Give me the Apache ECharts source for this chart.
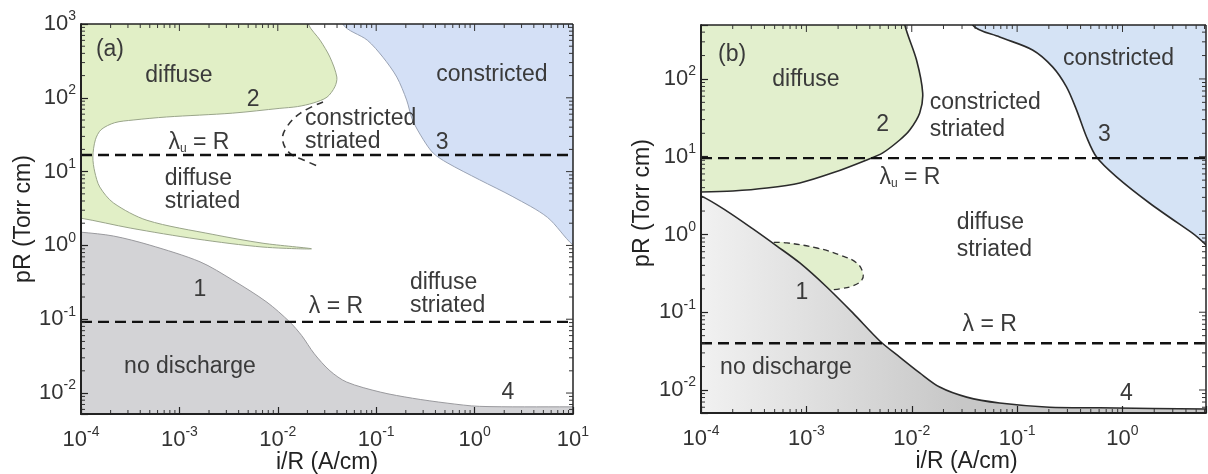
<!DOCTYPE html>
<html><head><meta charset="utf-8">
<script src="https://cdn.jsdelivr.net/npm/echarts@6/dist/echarts.min.js"></script>
<style>html,body{margin:0;padding:0;background:#fff}#c{width:1208px;height:474px}</style>
</head><body><div id="c"></div>
<script>
// ---------------- data ----------------
// axis ranges
const A_X = [1e-4, 10];
const A_Y = [5.2e-3, 1000];
const B_X = [1e-4, 6.2];
const B_Y = [5.06e-3, 494];

// panel (a) region boundaries [i/R (A/cm), pR (Torr cm)]
const A_DIFFUSE = [[5e-5,3000],[1.7e-2,3000],[2.04e-2,1000],[2.69e-2,603],[3.39e-2,355],[3.98e-2,191],[3.80e-2,141],[3.16e-2,102],[2.29e-2,85],[1.58e-2,76],[1.05e-2,72],[3.47e-3,62],[7.41e-4,55],[3.39e-4,50],[2.2e-4,46],[1.6e-4,37],[1.4e-4,27],[1.32e-4,15.8],[1.38e-4,9.9],[1.55e-4,6.2],[2.14e-4,3.76],[4.68e-4,2.19],[2.19e-3,1.41],[7.08e-3,1.07],[2.2e-2,0.9],[7.08e-3,0.95],[1.51e-3,1.22],[3.16e-4,1.72],[1e-4,2.34],[5e-5,2.6]];
const A_CONSTRICTED = [[4.2e-2,3000],[4.57e-2,1000],[8.13e-2,603],[0.117,355],[0.162,191],[0.204,93],[0.234,50],[0.302,27],[0.38,17.8],[0.525,13.2],[1.12,7.76],[2.45,4.57],[5.5,2.4],[10,1.01],[20,0.55],[20,3000]];
const A_NO_DISCHARGE = [[5e-5,1.6],[1e-4,1.51],[2.14e-4,1.34],[5.0e-4,1.01],[1.62e-3,0.60],[3.47e-3,0.34],[7.76e-3,0.17],[1.32e-2,0.092],[1.75e-2,0.060],[2.35e-2,0.034],[3.39e-2,0.020],[5.0e-2,0.0141],[0.11,0.0103],[0.234,0.0085],[0.525,0.0073],[1.12,0.0066],[9.3,0.0065],[20,0.0065],[20,1e-3],[5e-5,1e-3]];
const A_CONSTRICTED_STRIATED = [[2.88e-2,88],[1.70e-2,62],[1.23e-2,40],[1.12e-2,27],[1.32e-2,17.8],[1.82e-2,14.4],[2.69e-2,11.5]];
const A_LAMBDA_U = 16.8;
const A_LAMBDA = 0.092;

// panel (b)
const B_DIFFUSE = [[5e-5,1500],[7.6e-3,1500],[8.6e-3,494],[1.11e-2,175],[1.27e-2,66],[1.19e-2,36.5],[9.57e-3,22],[7.69e-3,16.4],[5.31e-3,11.2],[3.74e-3,9.1],[1.78e-3,6.2],[8.67e-4,4.6],[4.22e-4,3.96],[2.01e-4,3.63],[1e-4,3.52],[5e-5,3.5]];
const B_LOBE = [[4.9e-4,0.79],[6.53e-4,0.78],[1.26e-3,0.67],[2.08e-3,0.545],[3.01e-3,0.43],[3.44e-3,0.32],[3.36e-3,0.26],[2.76e-3,0.218],[2.08e-3,0.20],[1.67e-3,0.193],[1.2e-3,0.2],[6e-4,0.4]];
const B_LOBE_EDGE = [[4.9e-4,0.79],[6.53e-4,0.78],[1.26e-3,0.67],[2.08e-3,0.545],[3.01e-3,0.43],[3.44e-3,0.32],[3.36e-3,0.26],[2.76e-3,0.218],[2.08e-3,0.20],[1.67e-3,0.193]];
const B_CONSTRICTED = [[3.3e-2,1500],[3.79e-2,494],[6.82e-2,347],[0.140,236],[0.217,143],[0.294,79],[0.366,40],[0.456,17.9],[0.567,9.9],[0.877,5.5],[1.80,2.54],[4.61,1.04],[12,0.42],[12,1500]];
const B_NO_DISCHARGE = [[5e-5,4.3],[1e-4,3.13],[1.76e-4,2.0],[3.11e-4,1.18],[5.25e-4,0.71],[8.67e-4,0.43],[1.56e-3,0.211],[2.76e-3,0.098],[4.98e-3,0.0427],[7.69e-3,0.0265],[1.19e-2,0.0166],[1.84e-2,0.0109],[3.32e-2,0.0081],[6.82e-2,0.0068],[0.203,0.0060],[0.605,0.0059],[6.2,0.0057],[15,0.0057],[15,1e-3],[5e-5,1e-3]];
const B_LAMBDA_U = 9.6;
const B_LAMBDA = 0.040;

// annotations [x, y, text, align]
const A_LABELS = [
  [1.97e-4, 445, '(a)', 'center'],
  [9.9e-4, 197, 'diffuse', 'center'],
  [5.6e-3, 93, '2', 'center'],
  [1.58e-3, 25, '{l|λ}{u|u}{l| = R}', 'center'],
  [7.1e-4, 5.6, 'diffuse\nstriated', 'left'],
  [1.89e-2, 36, 'constricted\nstriated', 'left'],
  [0.467, 25, '3', 'center'],
  [1.50, 204, 'constricted', 'center'],
  [1.62e-3, 0.249, '1', 'center'],
  [1.28e-3, 0.0225, 'no discharge', 'center'],
  [3.9e-2, 0.146, 'λ = R', 'center'],
  [0.22, 0.216, 'diffuse\nstriated', 'left'],
  [2.18, 0.0101, '4', 'center']
];
const B_LABELS = [
  [1.97e-4, 204, '(b)', 'center'],
  [9.9e-4, 97, 'diffuse', 'center'],
  [5.3e-3, 25.6, '2', 'center'],
  [1.48e-2, 33.4, 'constricted\nstriated', 'left'],
  [0.916, 181, 'constricted', 'center'],
  [0.675, 19, '3', 'center'],
  [9.6e-3, 5.3, '{l|λ}{u|u}{l| = R}', 'center'],
  [2.67e-2, 0.94, 'diffuse\nstriated', 'left'],
  [9.06e-4, 0.177, '1', 'center'],
  [6.4e-4, 0.0192, 'no discharge', 'center'],
  [5.5e-2, 0.0686, 'λ = R', 'center'],
  [1.09, 0.0091, '4', 'center']
];
const X_NAME = 'i/R (A/cm)';
const Y_NAME = 'pR (Torr cm)';

// ---------------- chart ----------------
const FONT = '"Liberation Sans", Arial, Helvetica, sans-serif';
const TXT = '#3a3a3a';
const AX = '#222';
const ANN_SIZE = 23;

function powLabel(v) {
  const l = Math.log10(v), e = Math.round(l);
  if (Math.abs(l - e) > 1e-6) return '';
  return '{b|10}{s|' + e + '}';
}
const TICK_RICH = {
  b: {fontSize: 22, fontFamily: FONT, color: '#333'},
  s: {fontSize: 14, fontFamily: FONT, color: '#333', padding: [0, 0, 15, 0]}
};
const ANN_RICH = {
  l: {fontSize: ANN_SIZE, fontFamily: FONT, fill: TXT},
  u: {fontSize: 12, fontFamily: FONT, fill: TXT, padding: [12, 0, 0, 0]}
};

function logTicks(r) {
  const out = [];
  const lo = Math.floor(Math.log10(r[0])), hi = Math.ceil(Math.log10(r[1]));
  for (let e = lo; e <= hi; e++) {
    for (let k = 1; k <= 9; k++) {
      const v = k * Math.pow(10, e);
      if (v >= r[0] * 1.0001 && v <= r[1] * 0.9999) out.push({v, major: k === 1});
    }
  }
  return out;
}

function xAxis(gi, r, namePad) {
  return {
    type: 'log', logBase: 10, gridIndex: gi, min: r[0], max: r[1], z: 20,
    name: X_NAME, nameLocation: 'middle', nameGap: 37, nameMoveOverlap: false,
    nameTextStyle: {fontSize: 23, fontFamily: FONT, color: '#222', padding: namePad},
    axisLine: {show: true, onZero: false, lineStyle: {color: AX, width: 2}},
    axisTick: {show: true, inside: true, length: 7, lineStyle: {color: AX, width: 1.2}},
    axisLabel: {margin: 11, interval: 0, formatter: powLabel, rich: TICK_RICH, hideOverlap: false},
    splitLine: {show: false}, minorTick: {show: false}, minorSplitLine: {show: false}
  };
}
function yAxis(gi, r, nameGap, namePad) {
  return {
    type: 'log', logBase: 10, gridIndex: gi, min: r[0], max: r[1], z: 20,
    name: Y_NAME, nameLocation: 'middle', nameGap: nameGap, nameRotate: 90,
    nameTextStyle: {fontSize: 23, fontFamily: FONT, color: '#222', padding: namePad},
    axisLine: {show: true, onZero: false, lineStyle: {color: AX, width: 2}},
    axisTick: {show: true, inside: true, length: 7, lineStyle: {color: AX, width: 1.2}},
    axisLabel: {margin: 5, interval: 0, formatter: powLabel, rich: TICK_RICH, hideOverlap: false},
    splitLine: {show: false}, minorTick: {show: false}, minorSplitLine: {show: false}
  };
}

function region(gi, pts, style, z, smooth) {
  return {
    type: 'custom', xAxisIndex: gi, yAxisIndex: gi, clip: true, z: z, silent: true,
    data: [[1e-3, 1]],
    renderItem(params, api) {
      const cs = params.coordSys;
      const st = Object.assign({}, style);
      if (style.gradient) {
        st.fill = new echarts.graphic.LinearGradient(cs.x, 0, cs.x + 260, 0, style.gradient, true);
        delete st.gradient;
      }
      return {type: 'polygon', shape: {points: pts.map(p => api.coord(p)), smooth: smooth}, style: st};
    }
  };
}
function curve(gi, pts, style, z, smooth) {
  return {
    type: 'custom', xAxisIndex: gi, yAxisIndex: gi, clip: true, z: z, silent: true,
    data: [[1e-3, 1]],
    renderItem(params, api) {
      return {type: 'polyline', shape: {points: pts.map(p => api.coord(p)), smooth: smooth}, style: Object.assign({fill: null}, style)};
    }
  };
}
function hline(gi, xr, y) {
  return {
    type: 'line', xAxisIndex: gi, yAxisIndex: gi, z: 6, silent: true, symbol: 'none',
    data: [[xr[0], y], [xr[1], y]],
    lineStyle: {color: '#111', width: 2.4, type: [11, 6]}
  };
}
function labels(gi, list, lh) {
  return {
    type: 'custom', xAxisIndex: gi, yAxisIndex: gi, z: 12, silent: true,
    data: [[1e-3, 1]],
    renderItem(params, api) {
      return {type: 'group', children: list.map(l => {
        const p = api.coord([l[0], l[1]]);
        return {type: 'text', x: p[0], y: p[1], style: {
          text: l[2], align: l[3], verticalAlign: 'middle', fontSize: ANN_SIZE,
          fontFamily: FONT, fill: TXT, lineHeight: lh, rich: ANN_RICH}};
      })};
    }
  };
}
function frame(gi, xr, yr) {
  return {
    type: 'custom', xAxisIndex: gi, yAxisIndex: gi, z: 15, silent: true,
    data: [[1e-3, 1]],
    renderItem(params, api) {
      const cs = params.coordSys, L = cs.x, T = cs.y, R = cs.x + cs.width, B = cs.y + cs.height;
      const st = {stroke: '#333', lineWidth: 1};
      const ch = [
        {type: 'line', shape: {x1: L, y1: T, x2: R, y2: T}, style: {stroke: AX, lineWidth: 1.5}},
        {type: 'line', shape: {x1: R, y1: T, x2: R, y2: B}, style: {stroke: AX, lineWidth: 1.5}}
      ];
      logTicks(xr).forEach(t => {
        const px = api.coord([t.v, yr[0]])[0];
        const len = t.major ? 7 : 4;
        if (!t.major) ch.push({type: 'line', shape: {x1: px, y1: B, x2: px, y2: B - len}, style: st});
        ch.push({type: 'line', shape: {x1: px, y1: T, x2: px, y2: T + len}, style: st});
      });
      logTicks(yr).forEach(t => {
        const py = api.coord([xr[0], t.v])[1];
        const len = t.major ? 7 : 4;
        if (!t.major) ch.push({type: 'line', shape: {x1: L, y1: py, x2: L + len, y2: py}, style: st});
        ch.push({type: 'line', shape: {x1: R, y1: py, x2: R - len, y2: py}, style: st});
      });
      return {type: 'group', children: ch};
    }
  };
}

const GREEN = '#e1efc6', BLUE = '#d4e0f6', GRAY = '#d3d3d6';
const chart = echarts.init(document.getElementById('c'), null, {renderer: 'canvas'});
chart.setOption({
  animation: false,
  backgroundColor: '#fff',
  grid: [
    {left: 81, top: 24, width: 492, height: 390, containLabel: false, outerBoundsMode: 'none'},
    {left: 701, top: 25, width: 505, height: 388, containLabel: false, outerBoundsMode: 'none'}
  ],
  xAxis: [xAxis(0, A_X, [0, 0, 0, 0]), xAxis(1, B_X, [0, 0, 0, 26])],
  yAxis: [yAxis(0, A_Y, 43, [0, 0, 0, 0]), yAxis(1, B_Y, 47, [0, 0, 0, 32])],
  series: [
    region(0, A_DIFFUSE, {fill: GREEN, stroke: '#9aa58a', lineWidth: 1}, 2, 0.3),
    region(0, A_CONSTRICTED, {fill: BLUE, stroke: '#9aa3b5', lineWidth: 1}, 2, 0.3),
    region(0, A_NO_DISCHARGE, {fill: GRAY, stroke: '#9a9a9e', lineWidth: 1}, 2, 0.3),
    curve(0, A_CONSTRICTED_STRIATED, {stroke: '#333', lineWidth: 1.6, lineDash: [7, 5]}, 4, 0.4),
    hline(0, A_X, A_LAMBDA_U),
    hline(0, A_X, A_LAMBDA),
    labels(0, A_LABELS, 23),
    frame(0, A_X, A_Y),

    region(1, B_DIFFUSE, {fill: '#e2efcd', stroke: '#2b2b2b', lineWidth: 1.6}, 2, 0.3),
    region(1, B_CONSTRICTED, {fill: '#d5e3f5', stroke: '#2b2b2b', lineWidth: 1.6}, 2, 0.3),
    region(1, B_LOBE, {fill: '#e2efcd'}, 2, 0.3),
    region(1, B_NO_DISCHARGE, {gradient: [{offset: 0, color: '#f1f1f1'}, {offset: 1, color: '#c7c7c7'}], stroke: '#2b2b2b', lineWidth: 1.6}, 3, 0.3),
    curve(1, B_LOBE_EDGE, {stroke: '#333', lineWidth: 1.3, lineDash: [6, 4]}, 4, 0.4),
    hline(1, B_X, B_LAMBDA_U),
    hline(1, B_X, B_LAMBDA),
    labels(1, B_LABELS, 27),
    frame(1, B_X, B_Y)
  ]
});
</script></body></html>
